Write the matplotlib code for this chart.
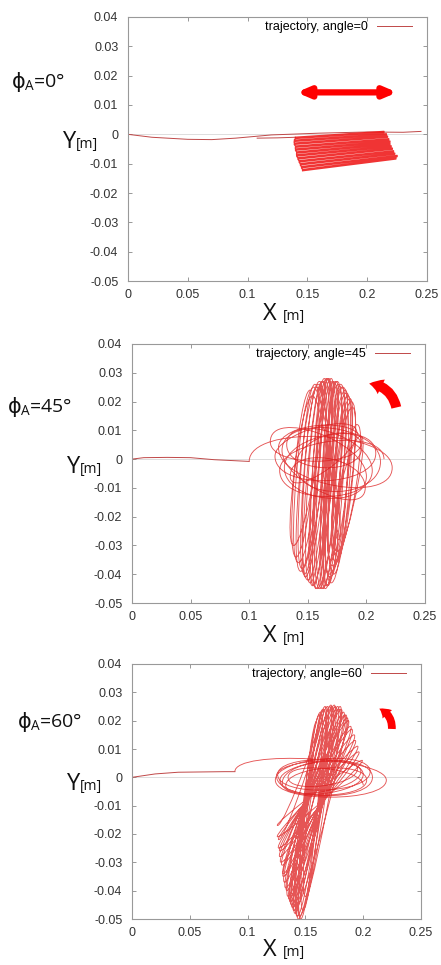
import matplotlib
matplotlib.use("Agg")
import matplotlib.pyplot as plt
from matplotlib.path import Path
from matplotlib.patches import PathPatch, FancyArrowPatch

plt.rcParams['font.family'] = ['Liberation Sans', 'DejaVu Sans']

# ---------------- data ----------------
angles = [0, 45, 60]
x_ticks = [0, 0.05, 0.1, 0.15, 0.2, 0.25]
x_tick_labels = ["0", "0.05", "0.1", "0.15", "0.2", "0.25"]
y_ticks = [0.04, 0.03, 0.02, 0.01, 0, -0.01, -0.02, -0.03, -0.04, -0.05]
y_tick_labels = ["0.04", "0.03", "0.02", "0.01", "0", "-0.01", "-0.02", "-0.03", "-0.04", "-0.05"]

# angle = 0 : lead-in lines
p1_lead_x = [0.0, 0.02, 0.05, 0.07, 0.09, 0.12, 0.16, 0.20, 0.23, 0.245]
p1_lead_y = [0.0, -0.0010, -0.0017, -0.0018, -0.0013, -0.0002, 0.0004, 0.0008, 0.0007, 0.0010]
p1_lead2_x = [0.108, 0.125, 0.140]
p1_lead2_y = [-0.0013, -0.0012, -0.0010]
# angle = 0 : back-and-forth strokes, one row per swing
p1_xl = [0.140, 0.139, 0.139, 0.140, 0.140, 0.141, 0.141, 0.142, 0.143, 0.144, 0.145, 0.146]
p1_xr = [0.214, 0.216, 0.217, 0.218, 0.219, 0.219, 0.220, 0.221, 0.222, 0.223, 0.225, 0.224]
p1_yl_out = [-0.0010, -0.0020, -0.0030, -0.0040, -0.0050, -0.0060,
             -0.0070, -0.0080, -0.0090, -0.0100, -0.0110, -0.0120]
p1_yr_out = [0.0010, 0.0002, -0.0006, -0.0015, -0.0023, -0.0031,
             -0.0039, -0.0047, -0.0056, -0.0064, -0.0072, -0.0080]
p1_yr_back = [0.0006, -0.0002, -0.0010, -0.0019, -0.0027, -0.0035,
              -0.0043, -0.0051, -0.0060, -0.0068, -0.0076, -0.0084]
p1_yl_back = [-0.0014, -0.0024, -0.0034, -0.0044, -0.0054, -0.0064,
              -0.0074, -0.0084, -0.0094, -0.0104, -0.0114, -0.0124]

# angle = 45
p2_lead_x = [0.0, 0.01, 0.03, 0.05, 0.07, 0.09, 0.100]
p2_lead_y = [0.0, 0.0005, 0.0006, 0.0005, -0.0002, -0.0006, -0.0008]
p2_hl_x = [0.100, 0.125, 0.118, 0.130, 0.122, 0.135, 0.128, 0.140, 0.132, 0.126]
p2_hl_y = [-0.0008, 0.004, 0.006, -0.003, 0.001, -0.006, 0.003, -0.002, 0.005, -0.004]
p2_hr_x = [0.222, 0.196, 0.200, 0.208, 0.192, 0.199, 0.212, 0.196, 0.205, 0.215]
p2_hr_y = [-0.003, 0.006, -0.006, 0.002, 0.009, -0.010, -0.001, 0.004, -0.004, 0.000]
p2_h_size = [0.013, 0.009, 0.012, 0.012, 0.008, 0.011, 0.013, 0.010, 0.012, 0.011]
p2_top_x = [0.152, 0.156, 0.160, 0.164, 0.168, 0.172, 0.176, 0.180, 0.184, 0.188,
            0.192, 0.155, 0.159, 0.163, 0.167, 0.171, 0.175, 0.179, 0.183, 0.187,
            0.154, 0.162, 0.170, 0.178, 0.186, 0.158, 0.166, 0.174, 0.182, 0.195]
p2_top_y = [0.024, 0.026, 0.027, 0.028, 0.028, 0.027, 0.026, 0.025, 0.022, 0.018,
            0.012, 0.025, 0.026, 0.027, 0.028, 0.027, 0.027, 0.025, 0.023, 0.020,
            0.022, 0.027, 0.028, 0.026, 0.021, 0.025, 0.028, 0.027, 0.024, 0.008]
p2_bot_x = [0.140, 0.145, 0.150, 0.155, 0.160, 0.165, 0.170, 0.172, 0.174, 0.175,
            0.176, 0.142, 0.147, 0.152, 0.157, 0.162, 0.167, 0.169, 0.171, 0.173,
            0.138, 0.148, 0.158, 0.166, 0.170, 0.144, 0.154, 0.163, 0.168, 0.176]
p2_bot_y = [-0.034, -0.038, -0.042, -0.044, -0.045, -0.045, -0.043, -0.040, -0.036, -0.032,
            -0.028, -0.036, -0.040, -0.043, -0.045, -0.045, -0.044, -0.041, -0.037, -0.033,
            -0.030, -0.041, -0.045, -0.044, -0.035, -0.039, -0.044, -0.045, -0.040, -0.025]
p2_v_size = [0.010, 0.009, 0.011, 0.008, 0.010, 0.009, 0.011, 0.010, 0.009, 0.010,
             0.008, 0.011, 0.009, 0.010, 0.008, 0.011, 0.009, 0.010, 0.011, 0.009,
             0.010, 0.008, 0.011, 0.009, 0.010, 0.011, 0.009, 0.008, 0.010, 0.009]

# angle = 60
p3_lead_x = [0.0, 0.02, 0.04, 0.06, 0.08, 0.089]
p3_lead_y = [0.0, 0.0012, 0.0018, 0.0019, 0.0020, 0.0020]
p3_hl_x = [0.089, 0.124, 0.126, 0.130, 0.125, 0.133, 0.128, 0.135]
p3_hl_y = [0.0020, -0.001, 0.001, -0.002, 0.0005, -0.003, -0.001, 0.000]
p3_hr_x = [0.220, 0.206, 0.200, 0.208, 0.198, 0.203, 0.195, 0.200]
p3_hr_y = [-0.001, 0.002, 0.001, 0.000, 0.002, -0.001, 0.003, -0.0028]
p3_h_size = [0.008, 0.008, 0.007, 0.009, 0.006, 0.007, 0.006, 0.006]
p3_top_x = [0.160, 0.163, 0.166, 0.169, 0.172, 0.175, 0.178, 0.181, 0.184, 0.187,
            0.190, 0.193, 0.196, 0.199, 0.162, 0.167, 0.171, 0.176, 0.180, 0.183,
            0.186, 0.189, 0.192, 0.195, 0.165, 0.173, 0.179, 0.185]
p3_top_y = [0.020, 0.023, 0.024, 0.025, 0.0255, 0.0255, 0.025, 0.024, 0.022, 0.020,
            0.017, 0.013, 0.009, 0.006, 0.022, 0.025, 0.025, 0.025, 0.025, 0.023,
            0.021, 0.018, 0.015, 0.011, 0.024, 0.025, 0.024, 0.022]
p3_bot_x = [0.146, 0.143, 0.141, 0.139, 0.137, 0.135, 0.134, 0.132, 0.131, 0.130,
            0.128, 0.127, 0.126, 0.126, 0.148, 0.144, 0.140, 0.138, 0.136, 0.133,
            0.131, 0.129, 0.128, 0.127, 0.150, 0.145, 0.142, 0.139]
p3_bot_y = [-0.050, -0.049, -0.048, -0.046, -0.044, -0.042, -0.040, -0.037, -0.034, -0.031,
            -0.028, -0.025, -0.021, -0.017, -0.047, -0.050, -0.047, -0.045, -0.043, -0.039,
            -0.035, -0.030, -0.026, -0.022, -0.042, -0.049, -0.046, -0.041]
p3_v_size = [0.007, 0.008, 0.007, 0.008, 0.007, 0.008, 0.007, 0.008, 0.007, 0.008,
             0.007, 0.007, 0.006, 0.006, 0.007, 0.008, 0.007, 0.008, 0.007, 0.008,
             0.007, 0.008, 0.007, 0.006, 0.007, 0.008, 0.007, 0.008]

# ---------------- helpers ----------------
LINE_C = '#dd1c1c'


def loop_path(ax_, ay_, bx_, by_, size, horizontal):
    # turning points a0, b0, a1, b1, ... joined by smooth bezier arcs
    seq = []
    for i in range(len(ax_)):
        seq.append((ax_[i], ay_[i], size[i]))
        seq.append((bx_[i], by_[i], size[i]))
    verts = [seq[0][:2]]
    codes = [Path.MOVETO]
    for k in range(len(seq) - 1):
        x0, y0, s = seq[k]
        x1, y1, _ = seq[k + 1]
        sign = 1 if k % 2 == 0 else -1
        if horizontal:
            c0, c1 = (x0, y0 + sign * s), (x1, y1 + sign * s)
        else:
            c0, c1 = (x0 - sign * s, y0), (x1 - sign * s, y1)
        verts += [c0, c1, (x1, y1)]
        codes += [Path.CURVE4] * 3
    return Path(verts, codes)


def add_loops(ax, path, lw=0.65, color=LINE_C, alpha=0.75):
    ax.add_patch(PathPatch(path, fill=False, edgecolor=color, lw=lw, alpha=alpha))


def style_axes(ax, box):
    l, t, r, b = box
    ax.set_xlim(0, 0.25)
    ax.set_ylim(-0.05, 0.04)
    ax.set_xticks(x_ticks)
    ax.set_xticklabels(x_tick_labels)
    ax.set_yticks(y_ticks)
    ax.set_yticklabels(y_tick_labels)
    ax.tick_params(direction='in', length=3, width=0.6, color='#888888',
                   labelsize=9, labelcolor='#333333', top=True, right=True)
    ax.tick_params(axis='y', pad=7)
    ax.tick_params(axis='x', pad=6)
    for sp in ax.spines.values():
        sp.set_color('#999999')
        sp.set_linewidth(0.8)
    ax.axhline(0, color='#d8d8d8', lw=0.6, zorder=0)
    # legend: line sample ends ~15 px from the right frame, ~10 px below the top
    ax.legend(loc='center right', bbox_to_anchor=(1 - 15.0 / (r - l), 1 - 10.0 / (b - t)),
              frameon=False, markerfirst=False, fontsize=9, handlelength=2.8,
              borderaxespad=0, borderpad=0, handletextpad=0.7)


fig = plt.figure(figsize=(4.41, 9.65), dpi=100)
W, H = 441.0, 965.0
boxes = [(128, 17, 427, 281), (132, 344, 425, 603), (132, 664, 421, 919)]
axs = []
for (l, t, r, b) in boxes:
    axs.append(fig.add_axes([l / W, 1 - b / H, (r - l) / W, (b - t) / H]))

lead_c = '#c04848'

# panel 1
ax = axs[0]
ax.plot(p1_lead_x, p1_lead_y, color=lead_c, lw=0.7, label='trajectory, angle=%d' % angles[0])
ax.plot(p1_lead2_x, p1_lead2_y, color=lead_c, lw=0.7)
sx, sy = [], []
for i in range(len(p1_xl)):
    sx += [p1_xl[i], p1_xr[i], p1_xr[i], p1_xl[i]]
    sy += [p1_yl_out[i], p1_yr_out[i], p1_yr_back[i], p1_yl_back[i]]
ax.plot(sx, sy, color='#ee1010', lw=1.0, alpha=0.85, solid_joinstyle='round')
style_axes(ax, boxes[0])
ax.annotate('', xy=(0.225, 0.0143), xytext=(0.141, 0.0143),
            arrowprops=dict(arrowstyle='<|-|>,head_length=0.35,head_width=0.15',
                            lw=4.5, color='#ff0000', mutation_scale=20, shrinkA=0, shrinkB=0))

# panel 2
ax = axs[1]
ax.plot(p2_lead_x, p2_lead_y, color=lead_c, lw=0.7, label='trajectory, angle=%d' % angles[1])
add_loops(ax, loop_path(p2_hl_x, p2_hl_y, p2_hr_x, p2_hr_y, p2_h_size, True))
add_loops(ax, loop_path(p2_top_x, p2_top_y, p2_bot_x, p2_bot_y, p2_v_size, False))
style_axes(ax, boxes[1])
ax.add_patch(FancyArrowPatch((0.226, 0.017), (0.200, 0.0263), connectionstyle='arc3,rad=0.4',
                             arrowstyle='simple,head_length=0.5,head_width=0.65,tail_width=0.4',
                             mutation_scale=18, color='#ff0000', lw=0))

# panel 3
ax = axs[2]
ax.plot(p3_lead_x, p3_lead_y, color=lead_c, lw=0.7, label='trajectory, angle=%d' % angles[2])
add_loops(ax, loop_path(p3_hl_x, p3_hl_y, p3_hr_x, p3_hr_y, p3_h_size, True))
add_loops(ax, loop_path(p3_top_x, p3_top_y, p3_bot_x, p3_bot_y, p3_v_size, False))
style_axes(ax, boxes[2])
ax.add_patch(FancyArrowPatch((0.2246, 0.0161), (0.2117, 0.0246), connectionstyle='arc3,rad=0.4',
                             arrowstyle='simple,head_length=0.5,head_width=0.65,tail_width=0.4',
                             mutation_scale=14, color='#ff0000', lw=0))

# side labels
big = ['Open Sans', 'DejaVu Sans']
phi_pos = [(12, 88), (8, 413), (18, 728)]
y_pos = [(76, 148), (80, 473), (80, 790)]
x_pos = [(277, 320), (277, 642), (277, 956)]
for i, a in enumerate(angles):
    px, py = phi_pos[i]
    fig.text(px / W, 1 - py / H, 'ϕ', fontsize=15, family='DejaVu Sans',
             ha='left', va='baseline', color='#111111')
    fig.text((px + 12) / W, 1 - py / H, '$_{\\mathregular{A}}$=%d°' % a, fontsize=14,
             family=big, ha='left', va='baseline', color='#111111')
    px, py = y_pos[i]
    fig.text(px / W, 1 - py / H, 'Y', fontsize=17, family=big, ha='right', va='baseline', color='#111111')
    fig.text(px / W, 1 - py / H, '[m]', fontsize=10, family=big, ha='left', va='baseline', color='#111111')
    px, py = x_pos[i]
    fig.text(px / W, 1 - py / H, 'X', fontsize=17, family=big, ha='right', va='baseline', color='#111111')
    fig.text((px + 6) / W, 1 - py / H, '[m]', fontsize=10, family=big, ha='left', va='baseline', color='#111111')

fig.savefig('out.png', dpi=100)
